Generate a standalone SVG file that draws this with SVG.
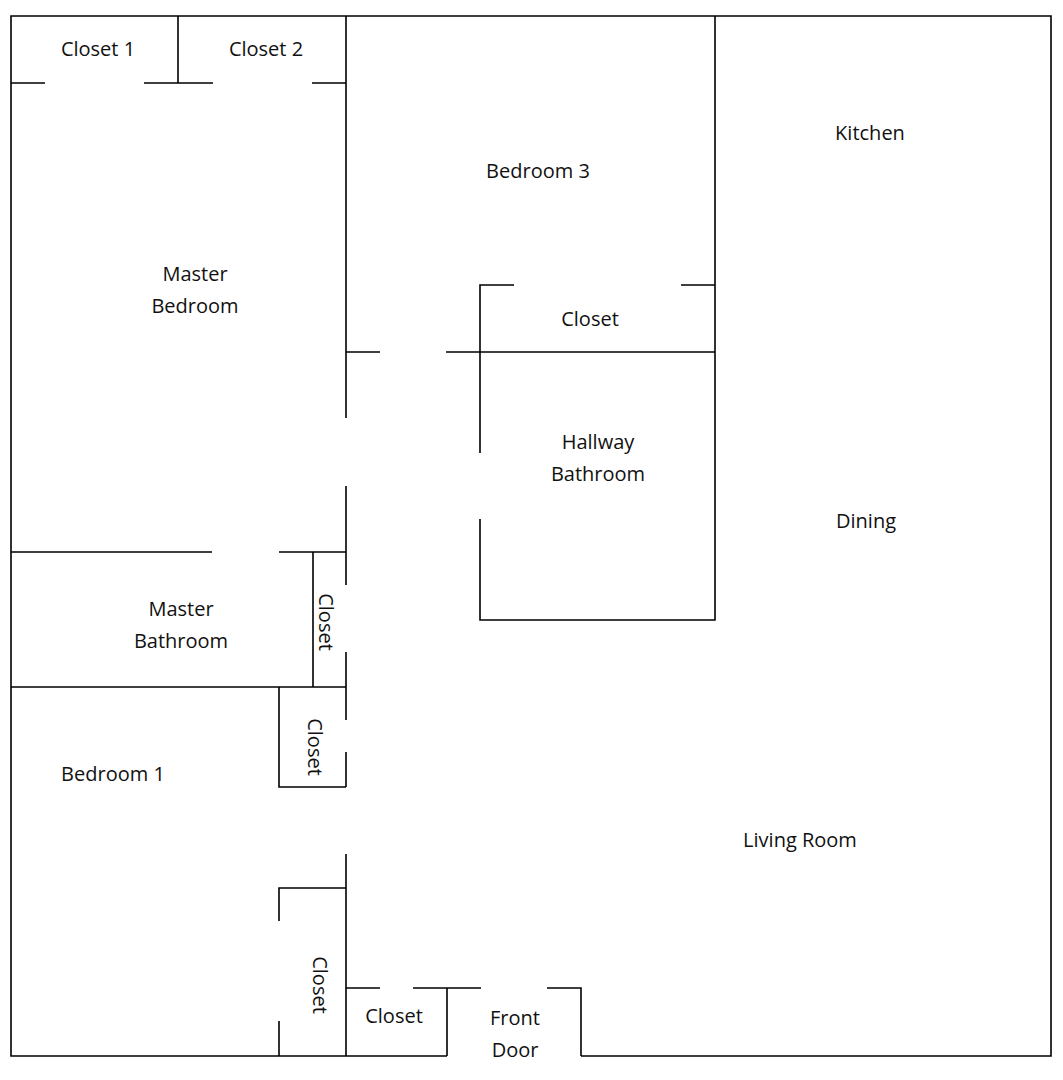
<svg xmlns="http://www.w3.org/2000/svg" width="1063" height="1080" viewBox="0 0 1063 1080">
<style>
path{stroke:#000;stroke-width:1.6;fill:none}
text{font-family:"Open Sans","Noto Sans",sans-serif;font-size:20px;fill:#111;text-anchor:middle;dominant-baseline:central}
</style>
<rect width="1063" height="1080" fill="#fff"/>
<g id="walls">
<path d="M447,1056 H11 V16 H1051 V1056 H581"/>
<path d="M11,83 H45 M144,83 H213 M312,83 H346 M178,16 V83"/>
<path d="M346,16 V418 M346,486 V585 M346,652 V720 M346,752 V787 M346,854 V1056"/>
<path d="M346,352 H380 M446,352 H715 M715,16 V620 H480 V519 M480,453 V285 H514 M681,285 H715"/>
<path d="M11,552 H212 M279,552 H346 M313,552 V687 M11,687 H346 M279,687 V787 H346"/>
<path d="M279,1056 V1021 M279,921 V888 H346"/>
<path d="M346,988 H380 M413,988 H481 M547,988 H581 V1056 M447,988 V1056"/>
</g>
<g id="labels">
<text x="98" y="48">Closet 1</text>
<text x="266" y="48">Closet 2</text>
<text x="538" y="170">Bedroom 3</text>
<text x="870" y="132">Kitchen</text>
<text x="195" y="273">Master</text>
<text x="195" y="305">Bedroom</text>
<text x="590" y="318">Closet</text>
<text x="598" y="441">Hallway</text>
<text x="598" y="473">Bathroom</text>
<text x="866" y="520">Dining</text>
<text x="181" y="608">Master</text>
<text x="181" y="640">Bathroom</text>
<text transform="translate(326,622) rotate(90)">Closet</text>
<text transform="translate(315,747) rotate(90)">Closet</text>
<text transform="translate(320,985) rotate(90)">Closet</text>
<text x="113" y="773">Bedroom 1</text>
<text x="800" y="839">Living Room</text>
<text x="394" y="1015">Closet</text>
<text x="515" y="1017">Front</text>
<text x="515" y="1049">Door</text>
</g>
</svg>
